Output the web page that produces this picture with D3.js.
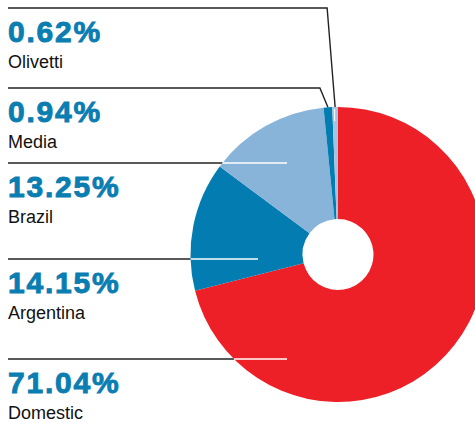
<!DOCTYPE html>
<html>
<head>
<meta charset="utf-8">
<script src="https://cdn.jsdelivr.net/npm/d3@7"></script>
<style>
  body { margin: 0; background: #fff; }
  svg { display: block; }
  .pct { font-family: "Liberation Sans", Arial, sans-serif; font-weight: bold; font-size: 30px; fill: #0a7db1; stroke: #0a7db1; stroke-width: 0.9px; letter-spacing: 1.8px; }
  .lbl { font-family: "Liberation Sans", Arial, sans-serif; font-size: 18px; fill: #111; }
</style>
</head>
<body>
<div id="chart"></div>
<script>
// slices in drawing order, clockwise from 12 o'clock
const segments = ["Domestic", "Argentina", "Brazil", "Media", "Olivetti"];
const shares = [71.04, 14.15, 13.25, 0.94, 0.62];
const colors = ["#ed1f27", "#037db1", "#89b4da", "#037db1", "#a3c5e3"];

// label rows, top to bottom
const labelOrder = ["Olivetti", "Media", "Brazil", "Argentina", "Domestic"];

const width = 475, height = 423;
const cx = 338, cy = 254.5, outerR = 147.5, innerR = 35.5;

const svg = d3.select("#chart").append("svg")
    .attr("width", width)
    .attr("height", height);

let data = segments.map((s, i) => ({name: s, value: shares[i], color: colors[i]}));

let pie = d3.pie().sort(null).value(d => d.value);
let arcs = pie(data);
let arc = d3.arc().innerRadius(innerR).outerRadius(outerR);

// rule y position for each label row
let rowY = d3.scaleOrdinal().domain(labelOrder).range([8, 88, 163, 259, 359]);

// black rules first, pie covers the rest
let leaders = svg.append("g");

arcs.forEach(a => {
    let y = rowY(a.data.name);
    let mid = (a.startAngle + a.endAngle) / 2;
    if (a.value < 2) {
        // tiny slices: rule then slanted tick to the rim
        let px = cx + outerR * Math.sin(mid), py = cy - outerR * Math.cos(mid);
        let bendX = px - 8;
        leaders.append("path")
            .attr("d", `M8,${y}H${bendX}L${px},${py}`)
            .attr("fill", "none")
            .attr("stroke", "#222")
            .attr("stroke-width", 1.4);
    } else {
        let edgeX = cx - Math.sqrt(outerR * outerR - (y - cy) * (y - cy));
        leaders.append("line")
            .attr("x1", 8).attr("x2", edgeX + 1)
            .attr("y1", y).attr("y2", y)
            .attr("stroke", "#222")
            .attr("stroke-width", 1.4);
    }
});

let g = svg.append("g").attr("transform", `translate(${cx},${cy})`);

g.selectAll("path")
    .data(arcs)
    .join("path")
    .attr("d", arc)
    .attr("fill", d => d.data.color);

// white continuation of the rules inside the slices
let whiteEnd = {Brazil: 287, Argentina: 258, Domestic: 287};
arcs.forEach(a => {
    let y = rowY(a.data.name);
    let mid = (a.startAngle + a.endAngle) / 2;
    if (a.value < 2) {
        if (a.data.name === "Olivetti") {
            let px = outerR * Math.sin(mid), py = -outerR * Math.cos(mid);
            g.append("line")
                .attr("x1", px - 0.5).attr("y1", py + 2)
                .attr("x2", px - 0.5).attr("y2", py + 14)
                .attr("stroke", "#fff").attr("stroke-width", 1);
        }
        return;
    }
    let edgeX = cx - Math.sqrt(outerR * outerR - (y - cy) * (y - cy));
    svg.append("line")
        .attr("x1", edgeX).attr("x2", whiteEnd[a.data.name])
        .attr("y1", y).attr("y2", y)
        .attr("stroke", "#fff")
        .attr("stroke-width", 1.4);
});

// text labels
let labels = svg.append("g");
labelOrder.forEach(name => {
    let d = data.find(x => x.name === name);
    let y = rowY(name);
    labels.append("text")
        .attr("class", "pct")
        .attr("x", 8)
        .attr("y", y + 34)
        .text(d3.format(".2f")(d.value) + "%");
    labels.append("text")
        .attr("class", "lbl")
        .attr("x", 8)
        .attr("y", y + 60)
        .text(name);
});
</script>
</body>
</html>
